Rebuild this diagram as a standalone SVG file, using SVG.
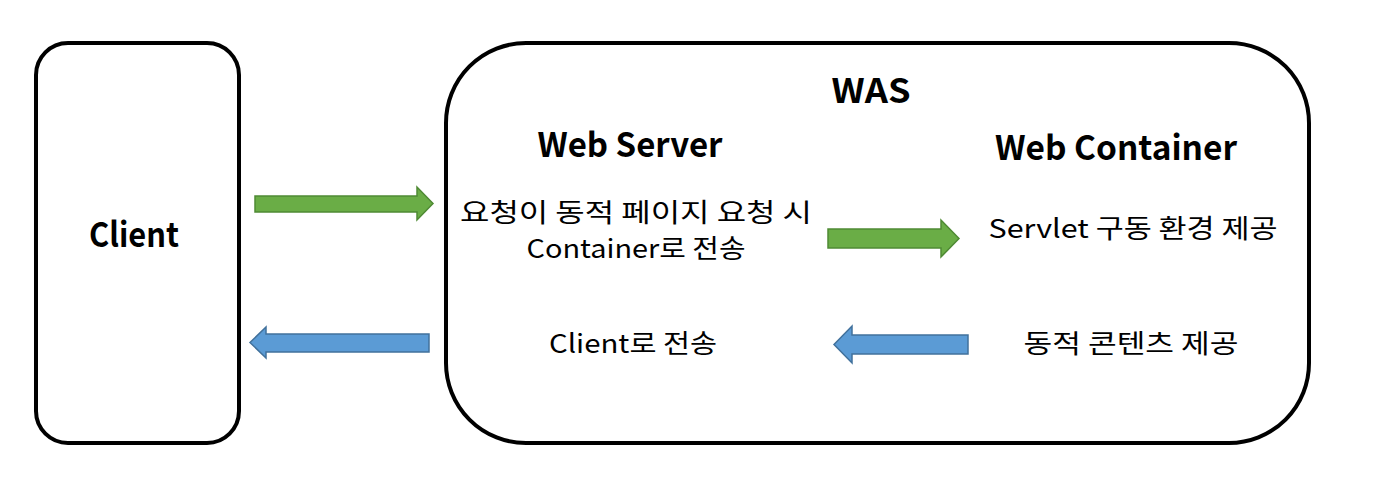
<svg xmlns="http://www.w3.org/2000/svg" width="1388" height="504" viewBox="0 0 1388 504">
<style>
.box{fill:#fff;stroke:#000;stroke-width:4}
.t{font-family:"Noto Sans CJK KR","Noto Sans",sans-serif;fill:#000;text-anchor:middle}
.b{font-weight:bold;font-size:34px}
.n{font-size:26px}
.g{fill:#6aad46;stroke:#4f8a34;stroke-width:1.5}
.bl{fill:#5b9bd5;stroke:#41719c;stroke-width:1.5}
</style>
<rect width="1388" height="504" fill="#fff"/>
<g id="client">
<rect class="box" x="36" y="43" width="203" height="400" rx="32"/>
<text class="t b" x="134" y="247" textLength="90" lengthAdjust="spacingAndGlyphs">Client</text>
</g>
<g id="was">
<rect class="box" x="446" y="43" width="863" height="400" rx="80"/>
<text class="t b" x="871" y="103" textLength="79" lengthAdjust="spacingAndGlyphs">WAS</text>
</g>
<g id="web-server">
<text class="t b" x="630" y="157" textLength="185" lengthAdjust="spacingAndGlyphs">Web Server</text>
<text class="t n" x="636" y="222" textLength="352" lengthAdjust="spacingAndGlyphs">요청이 동적 페이지 요청 시</text>
<text class="t n" x="636" y="258" textLength="219" lengthAdjust="spacingAndGlyphs">Container로 전송</text>
<text class="t n" x="633" y="353" textLength="168" lengthAdjust="spacingAndGlyphs">Client로 전송</text>
</g>
<g id="web-container">
<text class="t b" x="1116" y="160" textLength="242" lengthAdjust="spacingAndGlyphs">Web Container</text>
<text class="t n" x="1133" y="238" textLength="289" lengthAdjust="spacingAndGlyphs">Servlet 구동 환경 제공</text>
<text class="t n" x="1131" y="353" textLength="215" lengthAdjust="spacingAndGlyphs">동적 콘텐츠 제공</text>
</g>
<g id="connectors">
<polygon class="g" points="255,196 417,196 417,187 433,203.5 417,220 417,212 255,212"/>
<polygon class="bl" points="429,334 266,334 266,327 250,342.5 266,358 266,352 429,352"/>
<polygon class="g" points="828,229 941,229 941,220 959,238.5 941,257 941,248 828,248"/>
<polygon class="bl" points="968,335 852,335 852,326 834,344.5 852,363 852,354 968,354"/>
</g>
</svg>
